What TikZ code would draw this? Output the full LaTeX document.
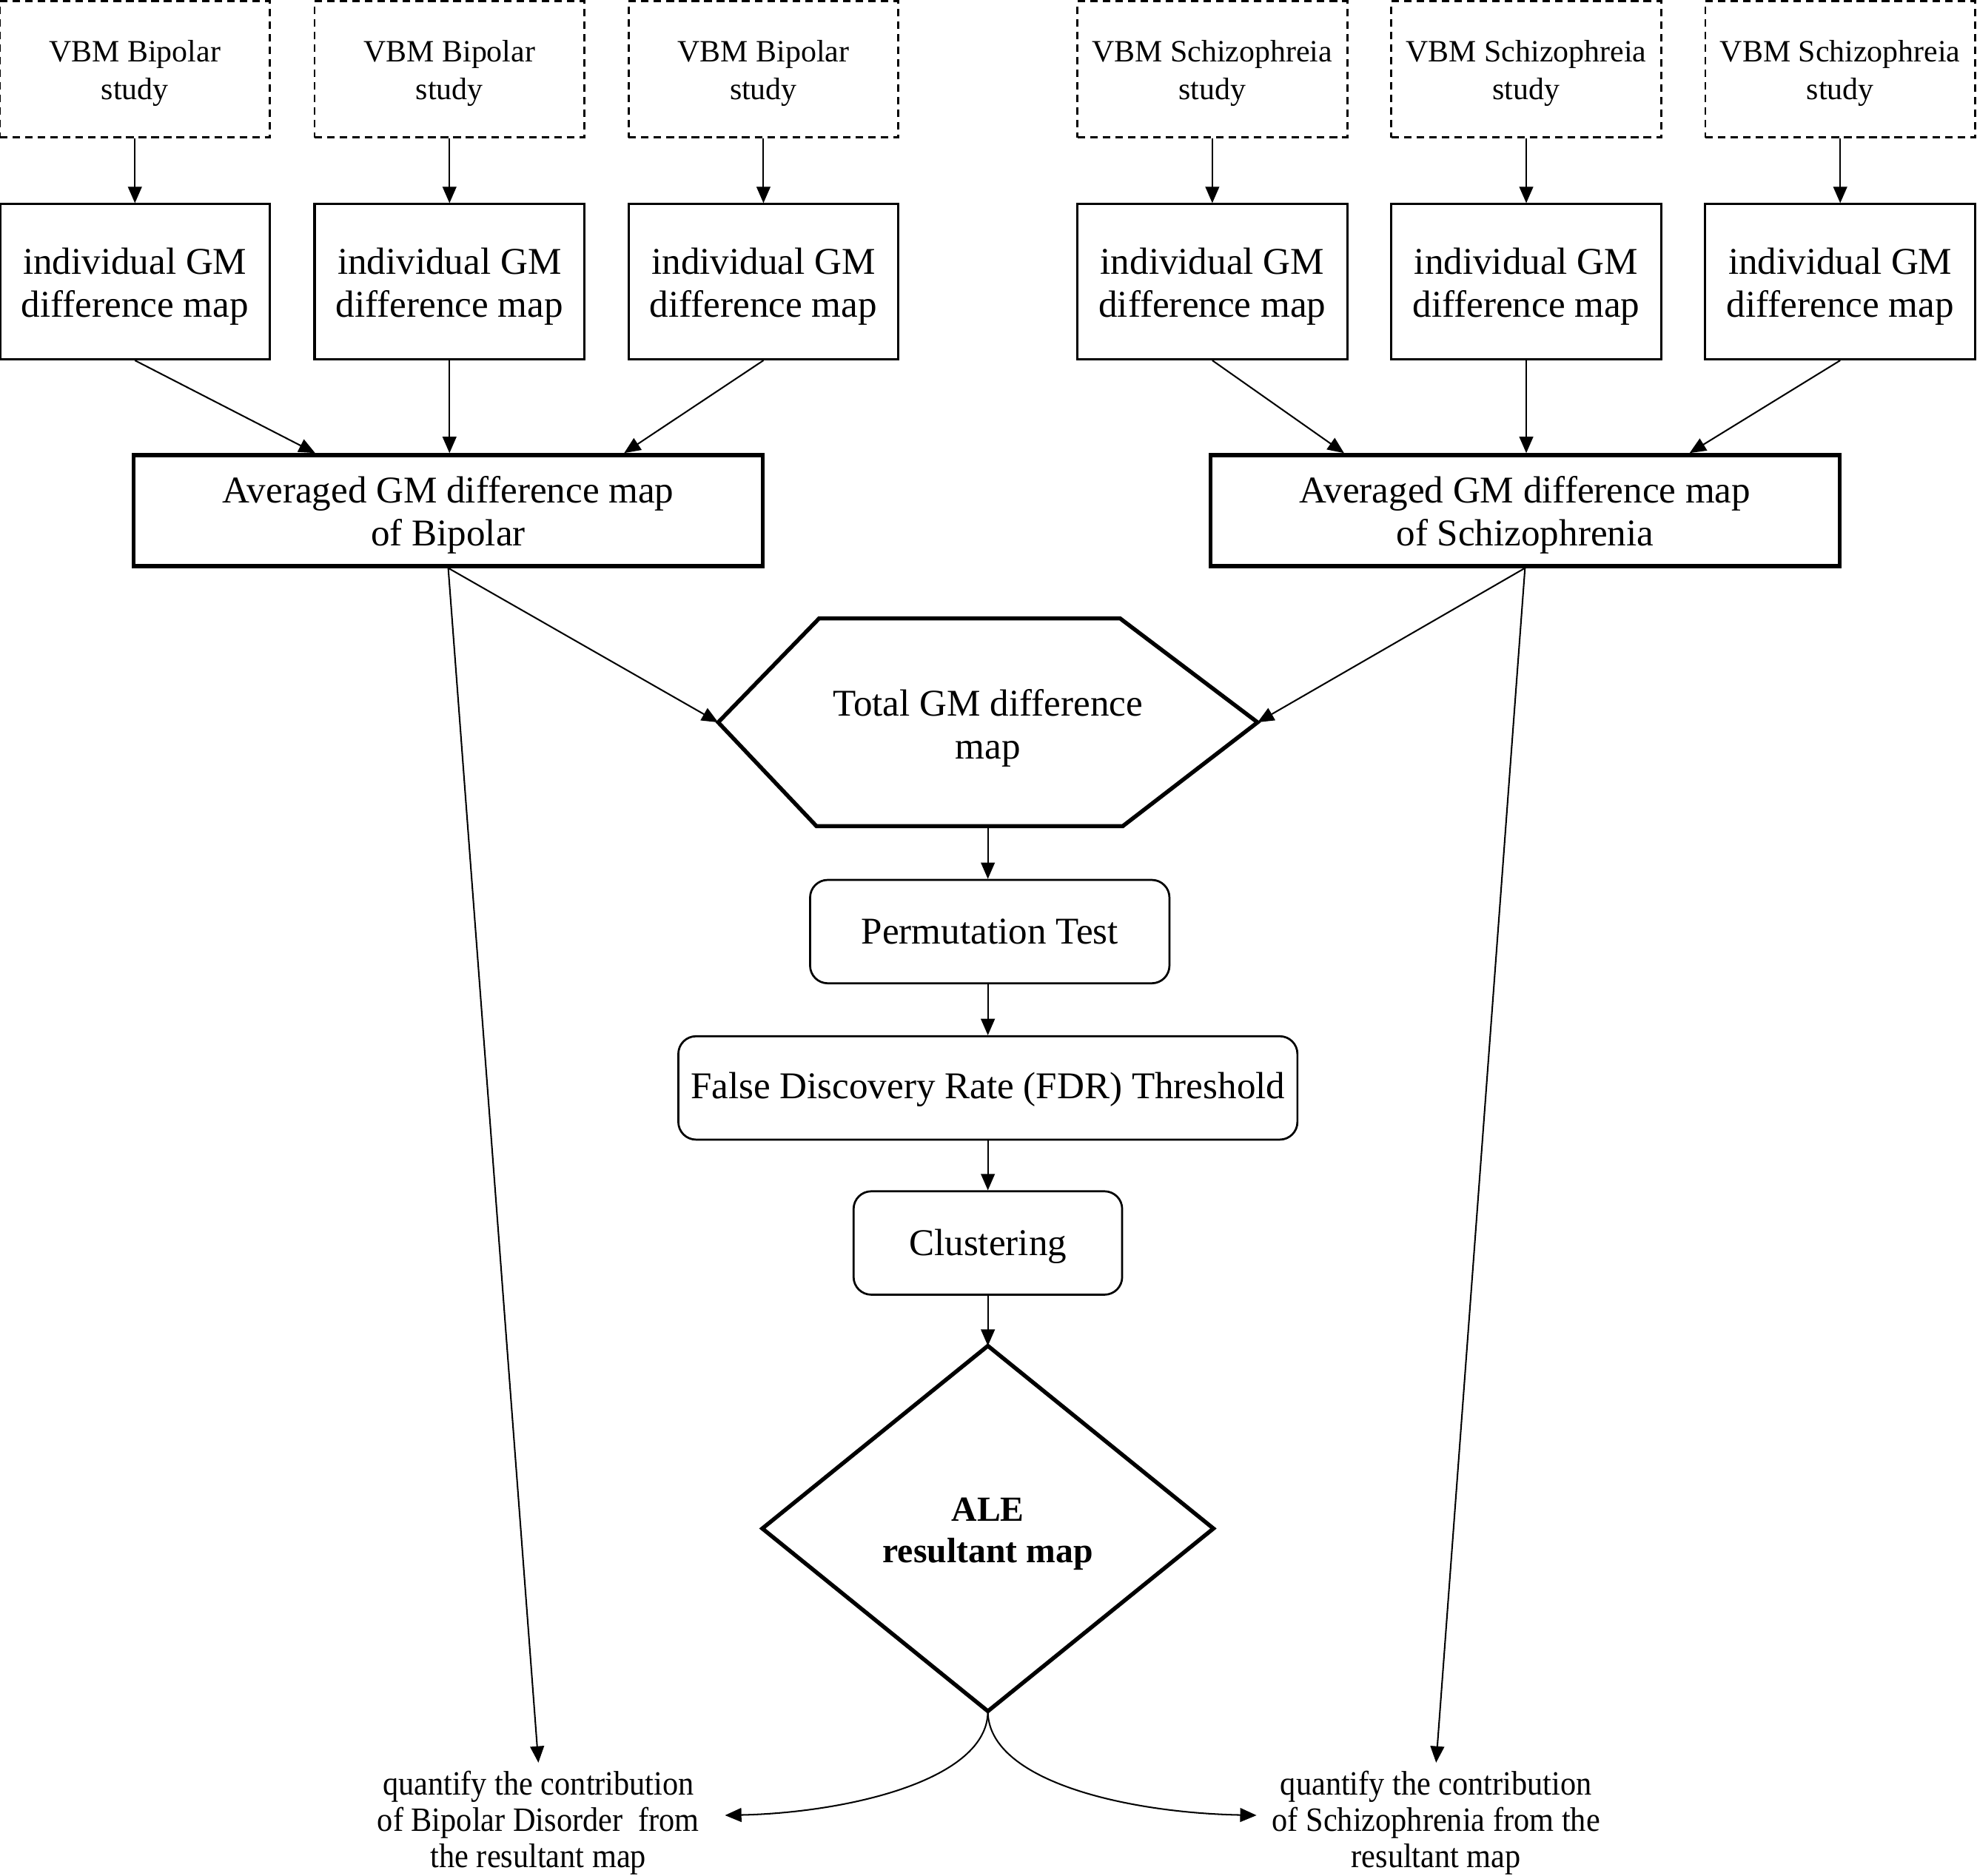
\documentclass[tikz,border=0pt]{standalone}
\usepackage{fontspec}
\setmainfont{Liberation Serif}
\newfontfamily\condserif{Liberation Serif}[FakeStretch=0.92]
\usetikzlibrary{arrows.meta,calc}
\newcommand\myup[1]{\rule{0pt}{#1}}
\begin{document}
\begin{tikzpicture}[x=0.5pt,y=-0.5pt,
  studybox/.style={draw,dash pattern=on 3pt off 2pt,line width=0.8pt,minimum width=107pt,minimum height=54pt,inner sep=0pt,align=center,font=\fontsize{12.3}{15}\selectfont},
  indbox/.style={draw,line width=0.9pt,minimum width=107pt,minimum height=61.5pt,inner sep=0pt,align=center,font=\fontsize{15}{17}\selectfont},
  avgbox/.style={draw,line width=1.6pt,minimum width=249.5pt,minimum height=44pt,inner sep=0pt,align=center,font=\fontsize{15}{17}\selectfont},
  roundbox/.style={draw,line width=0.8pt,rounded corners=7pt,minimum height=41pt,inner sep=0pt,align=center,font=\fontsize{15}{17}\selectfont},
  qtext/.style={align=center,inner sep=3pt,font=\condserif\fontsize{13.5}{14.5}\selectfont},
  arr/.style={-{Triangle[length=6.5pt,width=5.5pt]},line width=0.6pt},
  heavy/.style={line width=1.6pt,line join=miter}
]
\useasboundingbox (0,0) rectangle (1568,1488);

% study boxes
\node[studybox] (s1) at (107,55) {\myup{11.4pt}VBM Bipolar\\study};
\node[studybox] (s2) at (356.5,55) {\myup{11.4pt}VBM Bipolar\\study};
\node[studybox] (s3) at (605.5,55) {\myup{11.4pt}VBM Bipolar\\study};
\node[studybox] (s4) at (961.5,55) {\myup{11.4pt}VBM Schizophreia\\study};
\node[studybox] (s5) at (1210.5,55) {\myup{11.4pt}VBM Schizophreia\\study};
\node[studybox] (s6) at (1459.5,55) {\myup{11.4pt}VBM Schizophreia\\study};

% individual maps
\node[indbox] (i1) at (107,223.5) {\myup{14.2pt}individual GM\\difference map};
\node[indbox] (i2) at (356.5,223.5) {\myup{14.2pt}individual GM\\difference map};
\node[indbox] (i3) at (605.5,223.5) {\myup{14.2pt}individual GM\\difference map};
\node[indbox] (i4) at (961.5,223.5) {\myup{14.2pt}individual GM\\difference map};
\node[indbox] (i5) at (1210.5,223.5) {\myup{14.2pt}individual GM\\difference map};
\node[indbox] (i6) at (1459.5,223.5) {\myup{14.2pt}individual GM\\difference map};

% averaged maps
\node[avgbox] (avgB) at (355.5,405) {\myup{14.2pt}Averaged GM difference map\\of Bipolar};
\node[avgbox] (avgS) at (1209.5,405) {\myup{14.2pt}Averaged GM difference map\\of Schizophrenia};

% total hexagon
\node[minimum width=213.5pt,minimum height=82pt,inner sep=0pt,align=center,font=\fontsize{15}{17}\selectfont] (tot) at (783.5,573) {\myup{15pt}Total GM difference\\map};
\draw[heavy] (tot.west) -- ($(tot.north west)+(80,0)$) -- ($(tot.north east)+(-109,0)$) -- (tot.east) -- ($(tot.south east)+(-107,0)$) -- ($(tot.south west)+(78,0)$) -- cycle;

% process boxes
\node[roundbox,minimum width=142.5pt] (perm) at (785,739) {Permutation Test};
\node[roundbox,minimum width=245.5pt] (fdr) at (783.5,863) {\myup{11.5pt}False Discovery Rate (FDR) Threshold};
\node[roundbox,minimum width=106.5pt] (clus) at (783.5,986) {\myup{13pt}Clustering};

% ALE diamond
\node[minimum width=178.5pt,minimum height=144.5pt,inner sep=0pt,align=center,font=\bfseries\fontsize{14}{16.5}\selectfont] (ale) at (783.5,1212.5) {\myup{13.5pt}ALE\\resultant map};
\draw[heavy] (ale.north) -- (ale.east) -- (ale.south) -- (ale.west) -- cycle;

% bottom texts
\node[qtext] (qB) at (427,1446) {quantify the contribution\\of Bipolar Disorder\ \ from\\the resultant map};
\node[qtext] (qS) at (1139,1446) {quantify the contribution\\of Schizophrenia from the\\resultant map};

% arrows
\foreach \k in {1,...,6} {\draw[arr] (s\k.south) -- (i\k.north);}
\draw[arr] (i1.south) -- ($(avgB.north)+(-105.5,0)$);
\draw[arr] (i2.south) -- (i2.south |- avgB.north);
\draw[arr] (i3.south) -- ($(avgB.north)+(139.5,0)$);
\draw[arr] (i4.south) -- ($(avgS.north)+(-143.5,0)$);
\draw[arr] (i5.south) -- (i5.south |- avgS.north);
\draw[arr] (i6.south) -- ($(avgS.north)+(130.5,0)$);
\draw[arr] (avgB.south) -- (tot.west);
\draw[arr] (avgS.south) -- (tot.east);
\draw[arr] (avgB.south) -- (qB.north);
\draw[arr] (avgS.south) -- (qS.north);
\draw[arr] (tot.south) -- (tot.south |- perm.north);
\draw[arr] (perm.south -| fdr.north) -- (fdr.north);
\draw[arr] (fdr.south) -- (clus.north);
\draw[arr] (clus.south) -- (ale.north);
\draw[arr] (ale.south) .. controls ($(ale.south)+(0,55)$) and ($(qB.east)+(110,-8)$) .. ($(qB.east)+(14,-6)$);
\draw[arr] (ale.south) .. controls ($(ale.south)+(0,55)$) and ($(qS.west)+(-110,-8)$) .. ($(qS.west)+(-6,-6)$);
\end{tikzpicture}
\end{document}
